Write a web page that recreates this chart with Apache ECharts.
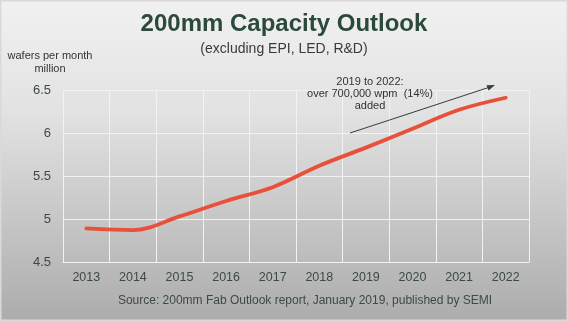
<!DOCTYPE html>
<html>
<head>
<meta charset="utf-8">
<script src="https://cdn.jsdelivr.net/npm/echarts@6/dist/echarts.min.js"></script>
<style>
  html, body { margin: 0; padding: 0; }
  #chart { width: 568px; height: 321px; }
</style>
</head>
<body>
<div id="chart"></div>
<script>
// 200mm fab capacity, million wafers per month
const years = ['2013', '2014', '2015', '2016', '2017', '2018', '2019', '2020', '2021', '2022'];
const capacity = [4.89, 4.87, 5.03, 5.21, 5.37, 5.62, 5.83, 6.05, 6.27, 6.41];
const yTicks = [4.5, 5, 5.5, 6, 6.5];

const textColor = '#3c4a44';
const font = 'Liberation Sans, Arial, sans-serif';

const chart = echarts.init(document.getElementById('chart'), null, { renderer: 'canvas' });

chart.setOption({
  animation: false,
  backgroundColor: {
    type: 'linear', x: 0, y: 0, x2: 0, y2: 1,
    colorStops: [
      { offset: 0, color: '#f1f1f1' },
      { offset: 0.35, color: '#e2e2e2' },
      { offset: 1, color: '#acacac' }
    ]
  },
  title: [
    {
      text: '200mm Capacity Outlook',
      left: 'center', top: 7,
      textStyle: { fontFamily: font, fontSize: 24, fontWeight: 'bold', color: '#2b4a3b' }
    },
    {
      text: '(excluding EPI, LED, R&D)',
      left: 'center', top: 37,
      textStyle: { fontFamily: font, fontSize: 14, fontWeight: 'normal', color: '#3a3a3a' }
    },
    {
      text: 'Source: 200mm Fab Outlook report, January 2019, published by SEMI',
      left: 300, top: 290, textAlign: 'center',
      textStyle: { fontFamily: font, fontSize: 12, fontWeight: 'normal', color: textColor }
    }
  ],
  grid: { left: 63, right: 39, top: 90, bottom: 59 },
  xAxis: {
    type: 'category',
    data: years,
    boundaryGap: true,
    axisLine: { lineStyle: { color: '#f2f2f2', width: 1 } },
    axisTick: { show: false },
    splitLine: { show: true, interval: 0, lineStyle: { color: '#f2f2f2', width: 1 } },
    axisLabel: { interval: 0, margin: 9, fontFamily: font, fontSize: 12.5, color: textColor }
  },
  yAxis: {
    type: 'value',
    min: yTicks[0], max: yTicks[yTicks.length - 1], interval: 0.5,
    name: 'wafers per month\nmillion',
    nameLocation: 'end',
    nameGap: 15,
    nameTextStyle: { fontFamily: font, fontSize: 11, color: '#333', align: 'center', lineHeight: 12.5, padding: [0, 0, 0, -26] },
    axisLine: { show: false },
    axisTick: { show: false },
    splitLine: { lineStyle: { color: '#f2f2f2', width: 1.2 } },
    axisLabel: {
      margin: 12, fontFamily: font, fontSize: 13, color: textColor,
      formatter: v => (yTicks.indexOf(v) >= 0 ? String(v) : '')
    }
  },
  series: [{
    type: 'line',
    data: capacity,
    smooth: 0.35,
    symbol: 'none',
    lineStyle: { color: '#e8503a', width: 3.8, cap: 'round' }
  }],
  graphic: [
    {
      type: 'rect', silent: true,
      shape: { x: 0.5, y: 0.5, width: 567, height: 320 },
      style: { fill: null, stroke: '#d9d9d9', lineWidth: 2 }
    },
    {
      type: 'text', x: 370, y: 76, z: 100, silent: true,
      style: {
        text: '2019 to 2022:\nover 700,000 wpm  (14%)\nadded',
        textAlign: 'center', textVerticalAlign: 'top',
        font: '11px ' + font, fill: '#333', lineHeight: 12
      }
    },
    {
      type: 'line', z: 100, silent: true,
      shape: { x1: 350, y1: 133, x2: 490, y2: 87 },
      style: { stroke: '#2f3e38', lineWidth: 1 }
    },
    {
      type: 'polygon', z: 100, silent: true,
      shape: { points: [[495, 85], [486.5, 85.3], [488.6, 90.6]] },
      style: { fill: '#2f3e38' }
    }
  ]
});
</script>
</body>
</html>
